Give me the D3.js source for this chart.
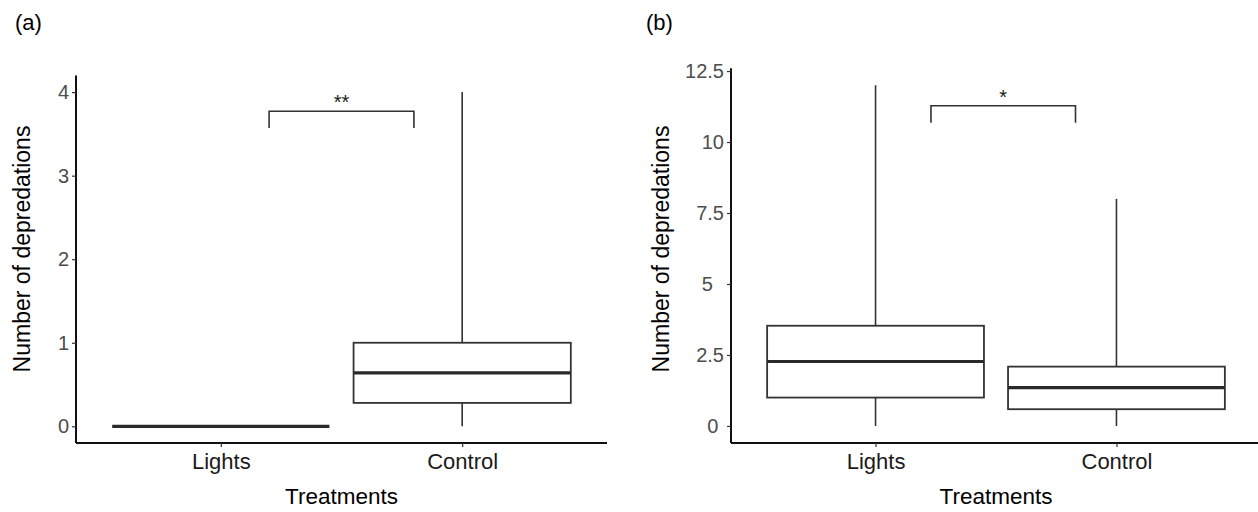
<!DOCTYPE html>
<html>
<head>
<meta charset="utf-8">
<script src="https://cdn.jsdelivr.net/npm/d3@7"></script>
<style>
  body { margin: 0; background: #fff; }
  svg { display: block; font-family: "Liberation Sans", Arial, sans-serif; }
</style>
</head>
<body>
<div class="chart"></div>
<script>
const width = 1258;
const height = 512;

// categories on the x axis
const categories = ['Lights', 'Control'];

// panel (a) box stats, one value per category
const aMin = [0, 0];
const aQ1 = [0, 0.28];
const aMedian = [0, 0.64];
const aQ3 = [0, 1.0];
const aMax = [0, 4];
const aTicks = [0, 1, 2, 3, 4];
const aTickLabels = ['0', '1', '2', '3', '4'];

// panel (b) box stats
const bMin = [0, 0];
const bQ1 = [1.0, 0.59];
const bMedian = [2.27, 1.35];
const bQ3 = [3.53, 2.09];
const bMax = [12, 8];
const bTicks = [0, 2.5, 5, 7.5, 10, 12.5];
const bTickLabels = ['0\u00a0', '2.5', '5\u00a0\u00a0', '7.5', '10', '12.5'];

// significance brackets: start/end (in category steps from Lights), height, leg drop, label
const sigFrom = [0.2, 0.23];
const sigTo = [0.8, 0.83];
const sigY = [3.77, 11.28];
const sigDrop = [0.2, 0.6];
const sigLabels = ['**', '*'];

const svg = d3.select('.chart').append('svg')
    .attr('width', width)
    .attr('height', height)
    .attr('viewBox', `0 0 ${width} ${height}`);

function drawPanel(p) {
    const g = svg.append('g');

    const stats = categories.map((c, i) => ({
        name: c, min: p.min[i], q1: p.q1[i], med: p.median[i], q3: p.q3[i], max: p.max[i]
    }));

    // ggplot style 5% expansion of the data range
    const lo = d3.min(stats, d => d.min);
    const hi = d3.max(stats, d => d.max);
    const pad = (hi - lo) * 0.05;
    const y = d3.scaleLinear().domain([lo - pad, hi + pad]).range([p.bottom, p.top]);
    const x = d3.scalePoint().domain(categories).range([p.left, p.right]).padding(0.6);
    const step = x.step();
    const boxW = step * 0.9;

    /* y axis */
    const yAxis = g.append('g')
        .attr('transform', `translate(${p.left},0)`)
        .call(d3.axisLeft(y).tickValues(p.ticks).tickFormat((d, i) => p.tickLabels[i]).tickSize(4).tickPadding(3));
    yAxis.select('.domain').attr('d', `M0,${p.bottom}V${p.top}`).attr('stroke', '#111').attr('stroke-width', 2);
    yAxis.selectAll('.tick line').attr('stroke', '#333').attr('stroke-width', 1.2);
    yAxis.selectAll('.tick text')
        .attr('fill', '#4d4d4d')
        .style('font-size', '20px')
        .style('font-family', '"Liberation Sans", Arial, sans-serif');

    /* x axis */
    const xAxis = g.append('g')
        .attr('transform', `translate(0,${p.bottom})`)
        .call(d3.axisBottom(x).tickSize(4).tickPadding(6));
    xAxis.select('.domain').attr('d', `M${p.left},0H${p.right}`).attr('stroke', '#111').attr('stroke-width', 2);
    xAxis.selectAll('.tick line').attr('stroke', '#333').attr('stroke-width', 1.2);
    xAxis.selectAll('.tick text')
        .attr('fill', '#1a1a1a')
        .style('font-size', '22px')
        .style('font-family', '"Liberation Sans", Arial, sans-serif');

    /* whiskers */
    const boxes = g.selectAll('.box').data(stats).enter().append('g').attr('class', 'box');
    boxes.append('line')
        .attr('x1', d => x(d.name)).attr('x2', d => x(d.name))
        .attr('y1', d => y(d.q3)).attr('y2', d => y(d.max))
        .attr('stroke', '#333').attr('stroke-width', 1.6);
    boxes.append('line')
        .attr('x1', d => x(d.name)).attr('x2', d => x(d.name))
        .attr('y1', d => y(d.q1)).attr('y2', d => y(d.min))
        .attr('stroke', '#333').attr('stroke-width', 1.6);

    /* boxes */
    boxes.append('rect')
        .attr('x', d => x(d.name) - boxW / 2)
        .attr('y', d => y(d.q3))
        .attr('width', boxW)
        .attr('height', d => y(d.q1) - y(d.q3))
        .attr('fill', '#fff')
        .attr('stroke', '#333')
        .attr('stroke-width', 1.8);
    boxes.append('line')
        .attr('x1', d => x(d.name) - boxW / 2).attr('x2', d => x(d.name) + boxW / 2)
        .attr('y1', d => y(d.med)).attr('y2', d => y(d.med))
        .attr('stroke', '#2a2a2a').attr('stroke-width', 3.2);

    /* significance bracket */
    const x0 = x(categories[0]);
    const bx1 = x0 + p.sig.from * step;
    const bx2 = x0 + p.sig.to * step;
    g.append('path')
        .attr('d', `M${bx1},${y(p.sig.y - p.sig.drop)}V${y(p.sig.y)}H${bx2}V${y(p.sig.y - p.sig.drop)}`)
        .attr('fill', 'none')
        .attr('stroke', '#333')
        .attr('stroke-width', 1.6);
    g.append('text')
        .attr('x', (bx1 + bx2) / 2)
        .attr('y', y(p.sig.y) - 2)
        .attr('text-anchor', 'middle')
        .style('font-size', '20px')
        .attr('fill', '#1a1a1a')
        .text(p.sig.label);

    /* titles */
    g.append('text')
        .attr('transform', `translate(${p.yTitleX},249) rotate(-90)`)
        .attr('text-anchor', 'middle')
        .style('font-size', '23px')
        .attr('fill', '#000')
        .text('Number of depredations');
    g.append('text')
        .attr('x', (p.left + p.right) / 2)
        .attr('y', 504)
        .attr('text-anchor', 'middle')
        .style('font-size', '22.5px')
        .attr('fill', '#000')
        .text('Treatments');
    g.append('text')
        .attr('x', p.tagX)
        .attr('y', 30)
        .style('font-size', '22px')
        .attr('fill', '#000')
        .text(p.tag);
}

drawPanel({
    tag: '(a)', tagX: 15, yTitleX: 30,
    left: 76, right: 607, top: 75.4, bottom: 443,
    min: aMin, q1: aQ1, median: aMedian, q3: aQ3, max: aMax,
    ticks: aTicks, tickLabels: aTickLabels,
    sig: { from: sigFrom[0], to: sigTo[0], y: sigY[0], drop: sigDrop[0], label: sigLabels[0] }
});

drawPanel({
    tag: '(b)', tagX: 646, yTitleX: 669,
    left: 731, right: 1261, top: 68.2, bottom: 443,
    min: bMin, q1: bQ1, median: bMedian, q3: bQ3, max: bMax,
    ticks: bTicks, tickLabels: bTickLabels,
    sig: { from: sigFrom[1], to: sigTo[1], y: sigY[1], drop: sigDrop[1], label: sigLabels[1] }
});
</script>
</body>
</html>
